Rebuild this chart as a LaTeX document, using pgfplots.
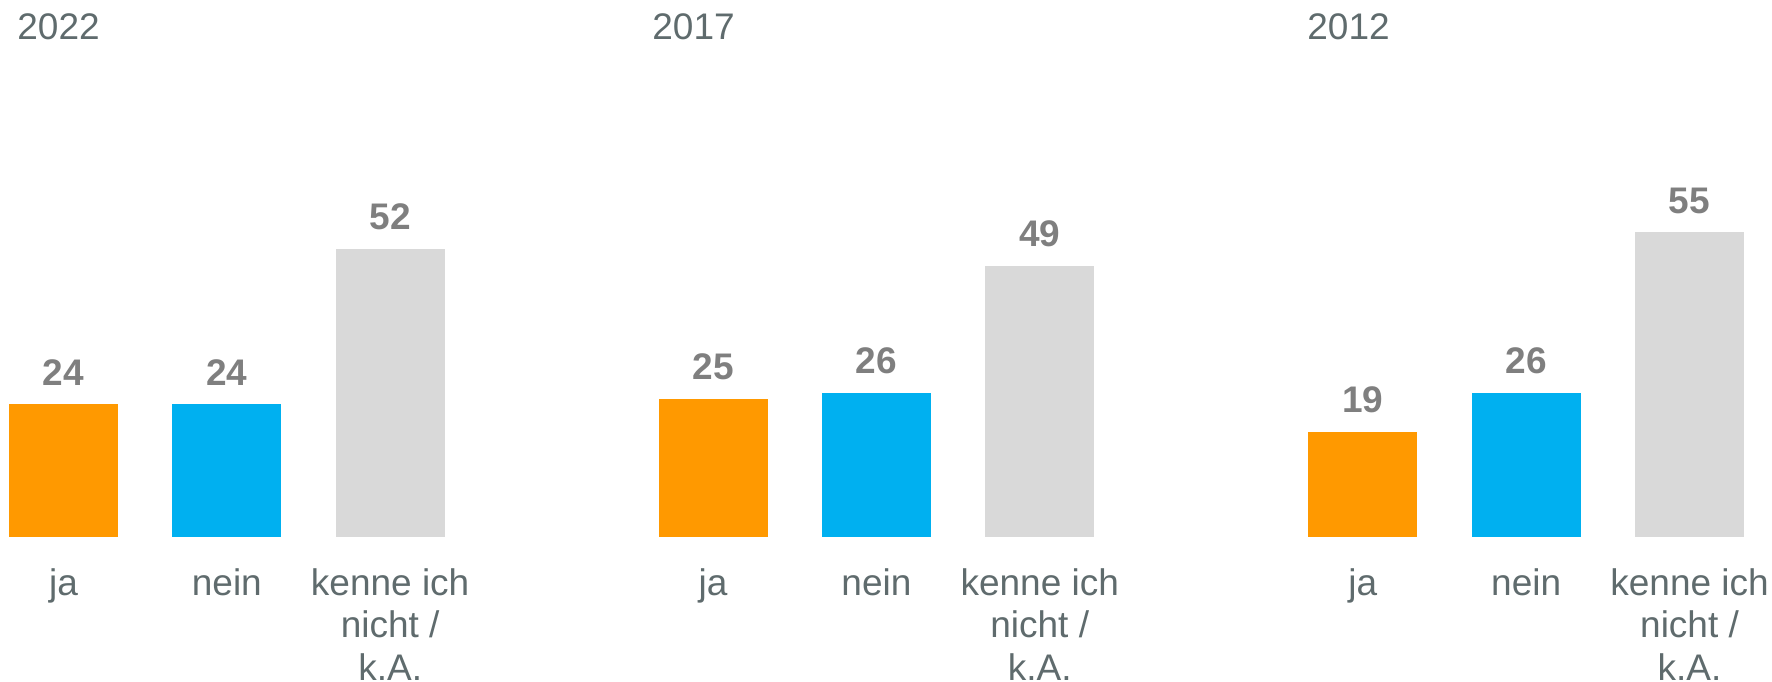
\documentclass[border=0pt]{standalone}
\usepackage{fontspec}
\setmainfont{Liberation Sans}
\usepackage{pgfplots}
\pgfplotsset{compat=1.18}
\definecolor{cOrange}{HTML}{FF9900}
\definecolor{cBlue}{HTML}{00B0F0}
\definecolor{cGray}{HTML}{D9D9D9}
\definecolor{cText}{HTML}{5F6B6D}
\definecolor{cVal}{HTML}{7F7F7F}
\pgfplotsset{
 panel/.style={
  at={(#1,72pt)}, anchor=south west, scale only axis, width=245pt, height=249.3pt,
  xmin=-0.5, xmax=2.5, ymin=0, ymax=90,
  axis line style={draw=none}, ytick=\empty, xtick={0,1,2}, major tick length=0pt,
  xticklabels={ja,nein,{kenne ich\\nicht /\\k.A.}},
  xticklabel style={align=center, anchor=north, inner sep=0pt, yshift=-15.5pt, font=\fontsize{18.5}{21.2}\selectfont, text=cText},
  ybar, bar width=54.5pt,
  /pgf/number format/assume math mode=true,
  nodes near coords,
  every node near coord/.append style={anchor=base, yshift=9.5pt, font=\fontsize{18.5}{21.2}\selectfont\bfseries, text=cVal},
  clip=false,
 }
}
\begin{document}
\begin{tikzpicture}
\useasboundingbox (0,0) rectangle (886pt,340.5pt);
\node[anchor=base west, inner sep=0pt, text=cText, font=\fontsize{18.5}{21.2}\selectfont] at (8.5pt,320.5pt) {2022};
\node[anchor=base west, inner sep=0pt, text=cText, font=\fontsize{18.5}{21.2}\selectfont] at (326pt,320.5pt) {2017};
\node[anchor=base west, inner sep=0pt, text=cText, font=\fontsize{18.5}{21.2}\selectfont] at (653.5pt,320.5pt) {2012};
% 2022
\begin{axis}[panel=-9.08pt]
\addplot[fill=cOrange, draw=none, bar shift=0pt] coordinates {(0,24)};
\addplot[fill=cBlue, draw=none, bar shift=0pt] coordinates {(1,24)};
\addplot[fill=cGray, draw=none, bar shift=0pt] coordinates {(2,52)};
\end{axis}
% 2017
\begin{axis}[panel=315.7pt]
\addplot[fill=cOrange, draw=none, bar shift=0pt] coordinates {(0,25)};
\addplot[fill=cBlue, draw=none, bar shift=0pt] coordinates {(1,26)};
\addplot[fill=cGray, draw=none, bar shift=0pt] coordinates {(2,49)};
\end{axis}
% 2012
\begin{axis}[panel=640.6pt]
\addplot[fill=cOrange, draw=none, bar shift=0pt] coordinates {(0,19)};
\addplot[fill=cBlue, draw=none, bar shift=0pt] coordinates {(1,26)};
\addplot[fill=cGray, draw=none, bar shift=0pt] coordinates {(2,55)};
\end{axis}
\end{tikzpicture}
\end{document}
